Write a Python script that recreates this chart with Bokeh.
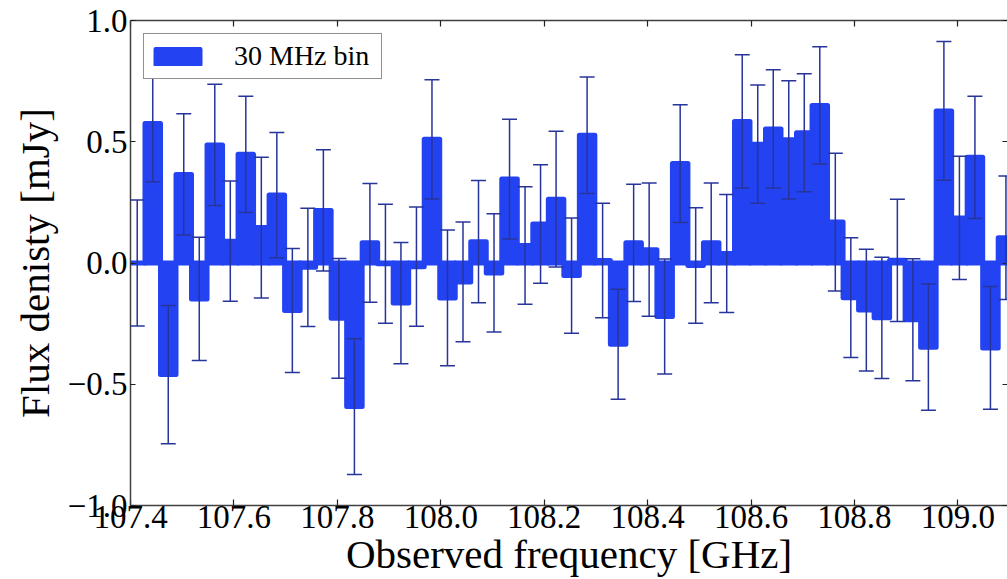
from bokeh.plotting import figure
from bokeh.models import (Range1d, FixedTicker, CustomJSTickFormatter, LinearAxis,
                          Whisker, TeeHead, ColumnDataSource, Legend, LegendItem)
from bokeh.embed import file_html
from bokeh.resources import INLINE

# ---- data ----
freq = [107.413, 107.443, 107.473, 107.503, 107.533, 107.563, 107.593, 107.623,
        107.653, 107.683, 107.713, 107.743, 107.773, 107.803, 107.833, 107.863,
        107.893, 107.923, 107.953, 107.983, 108.013, 108.043, 108.073, 108.103,
        108.133, 108.163, 108.193, 108.223, 108.253, 108.283, 108.313, 108.343,
        108.373, 108.403, 108.433, 108.463, 108.493, 108.523, 108.553, 108.583,
        108.613, 108.643, 108.673, 108.703, 108.733, 108.763, 108.793, 108.823,
        108.853, 108.883, 108.913, 108.943, 108.973, 109.003, 109.033, 109.063,
        109.093]
flux = [0.000, 0.575, -0.460, 0.365, -0.148, 0.487, 0.090, 0.448,
        0.146, 0.280, -0.196, -0.018, 0.217, -0.228, -0.592, 0.083,
        -0.003, -0.165, -0.015, 0.510, -0.144, -0.078, 0.088, -0.041,
        0.346, 0.072, 0.161, 0.263, -0.052, 0.527, 0.010, -0.335,
        0.083, 0.055, -0.221, 0.410, -0.010, 0.083, 0.039, 0.584,
        0.490, 0.553, 0.508, 0.537, 0.650, 0.169, -0.143, -0.194,
        -0.226, 0.011, -0.234, -0.347, 0.627, 0.186, 0.436, -0.350,
        0.104]
err = [0.260, 0.240, 0.285, 0.250, 0.254, 0.250, 0.248, 0.240,
       0.290, 0.258, 0.256, 0.244, 0.250, 0.247, 0.280, 0.245,
       0.245, 0.250, 0.246, 0.246, 0.280, 0.247, 0.252, 0.244,
       0.247, 0.242, 0.244, 0.280, 0.238, 0.240, 0.236, 0.227,
       0.242, 0.275, 0.237, 0.243, 0.238, 0.247, 0.243, 0.275,
       0.244, 0.244, 0.244, 0.243, 0.242, 0.284, 0.247, 0.251,
       0.250, 0.252, 0.252, 0.260, 0.286, 0.254, 0.252, 0.253,
       0.255]
xticks = [107.4, 107.6, 107.8, 108.0, 108.2, 108.4, 108.6, 108.8, 109.0]
yticks = [-1.0, -0.5, 0.0, 0.5, 1.0]
legend_label = "30 MHz bin"
bin_width = 0.03

BAR = "#2343f2"
ERR = "#27349a"
SPINE = "#404040"
FONT = "Liberation Serif"

src = ColumnDataSource(dict(
    freq=freq, flux=flux,
    upper=[f + e for f, e in zip(flux, err)],
    lower=[f - e for f, e in zip(flux, err)],
))

p = figure(width=1007, height=579, output_backend="svg", toolbar_location=None,
           x_range=Range1d(107.4, 109.096), y_range=Range1d(-1.0, 1.0),
           min_border_left=130, min_border_right=0, min_border_top=20,
           min_border_bottom=74)
p.outline_line_color = None
p.xgrid.visible = False
p.ygrid.visible = False
p.background_fill_color = "white"
p.border_fill_color = "white"

r = p.vbar(x="freq", top="flux", bottom=0, width=bin_width, source=src,
           fill_color=BAR, line_color=BAR, line_width=5, line_join="round")

w = Whisker(source=src, base="freq", upper="upper", lower="lower",
            line_color=ERR, line_width=1.5, level="annotation",
            upper_head=TeeHead(size=15, line_color=ERR, line_width=1.5),
            lower_head=TeeHead(size=15, line_color=ERR, line_width=1.5))
p.add_layout(w)

def style(ax):
    ax.axis_line_color = SPINE
    ax.axis_line_width = 1.5
    ax.major_tick_line_color = "#202020"
    ax.major_tick_line_width = 1.2
    ax.major_tick_out = 0
    ax.minor_tick_in = 0
    ax.minor_tick_out = 0
    ax.major_label_text_font = FONT
    ax.major_label_text_font_size = "33px"
    ax.major_label_text_color = "black"
    ax.axis_label_text_font = FONT
    ax.axis_label_text_font_size = "41px"
    ax.axis_label_text_font_style = "normal"
    ax.axis_label_text_color = "black"

xa = p.xaxis[0]
style(xa)
xa.ticker = FixedTicker(ticks=xticks)
xa.formatter = CustomJSTickFormatter(code="return tick.toFixed(1);")
xa.major_tick_in = 6
xa.major_label_standoff = 0
xa.axis_label = "Observed frequency [GHz]"
xa.axis_label_standoff = 0

ya = p.yaxis[0]
style(ya)
ya.ticker = FixedTicker(ticks=yticks)
ya.formatter = CustomJSTickFormatter(code="return tick.toFixed(1).replace('-', '\\u2212');")
ya.major_tick_in = 5
ya.major_label_standoff = 3
ya.axis_label = "Flux denisty [mJy]"
ya.axis_label_standoff = 7

top = LinearAxis(ticker=FixedTicker(ticks=xticks),
                 formatter=CustomJSTickFormatter(code="return '';"))
style(top)
top.major_tick_in = 6
top.major_label_standoff = 0
p.add_layout(top, "above")

right = LinearAxis(ticker=FixedTicker(ticks=yticks),
                   formatter=CustomJSTickFormatter(code="return '';"))
style(right)
right.axis_line_color = None
right.major_tick_in = 5
right.major_label_standoff = 0
p.add_layout(right, "right")

leg = Legend(items=[LegendItem(label=legend_label, renderers=[r])],
             location="top_left", margin=13, padding=6,
             glyph_width=55, glyph_height=19, label_standoff=29,
             label_width=141,
             label_text_font=FONT, label_text_font_size="28px",
             label_text_color="black",
             border_line_color="#222222", border_line_width=1.3,
             background_fill_color="white", background_fill_alpha=1.0)
p.add_layout(leg)

open("out.html", "w").write(file_html(p, INLINE))
